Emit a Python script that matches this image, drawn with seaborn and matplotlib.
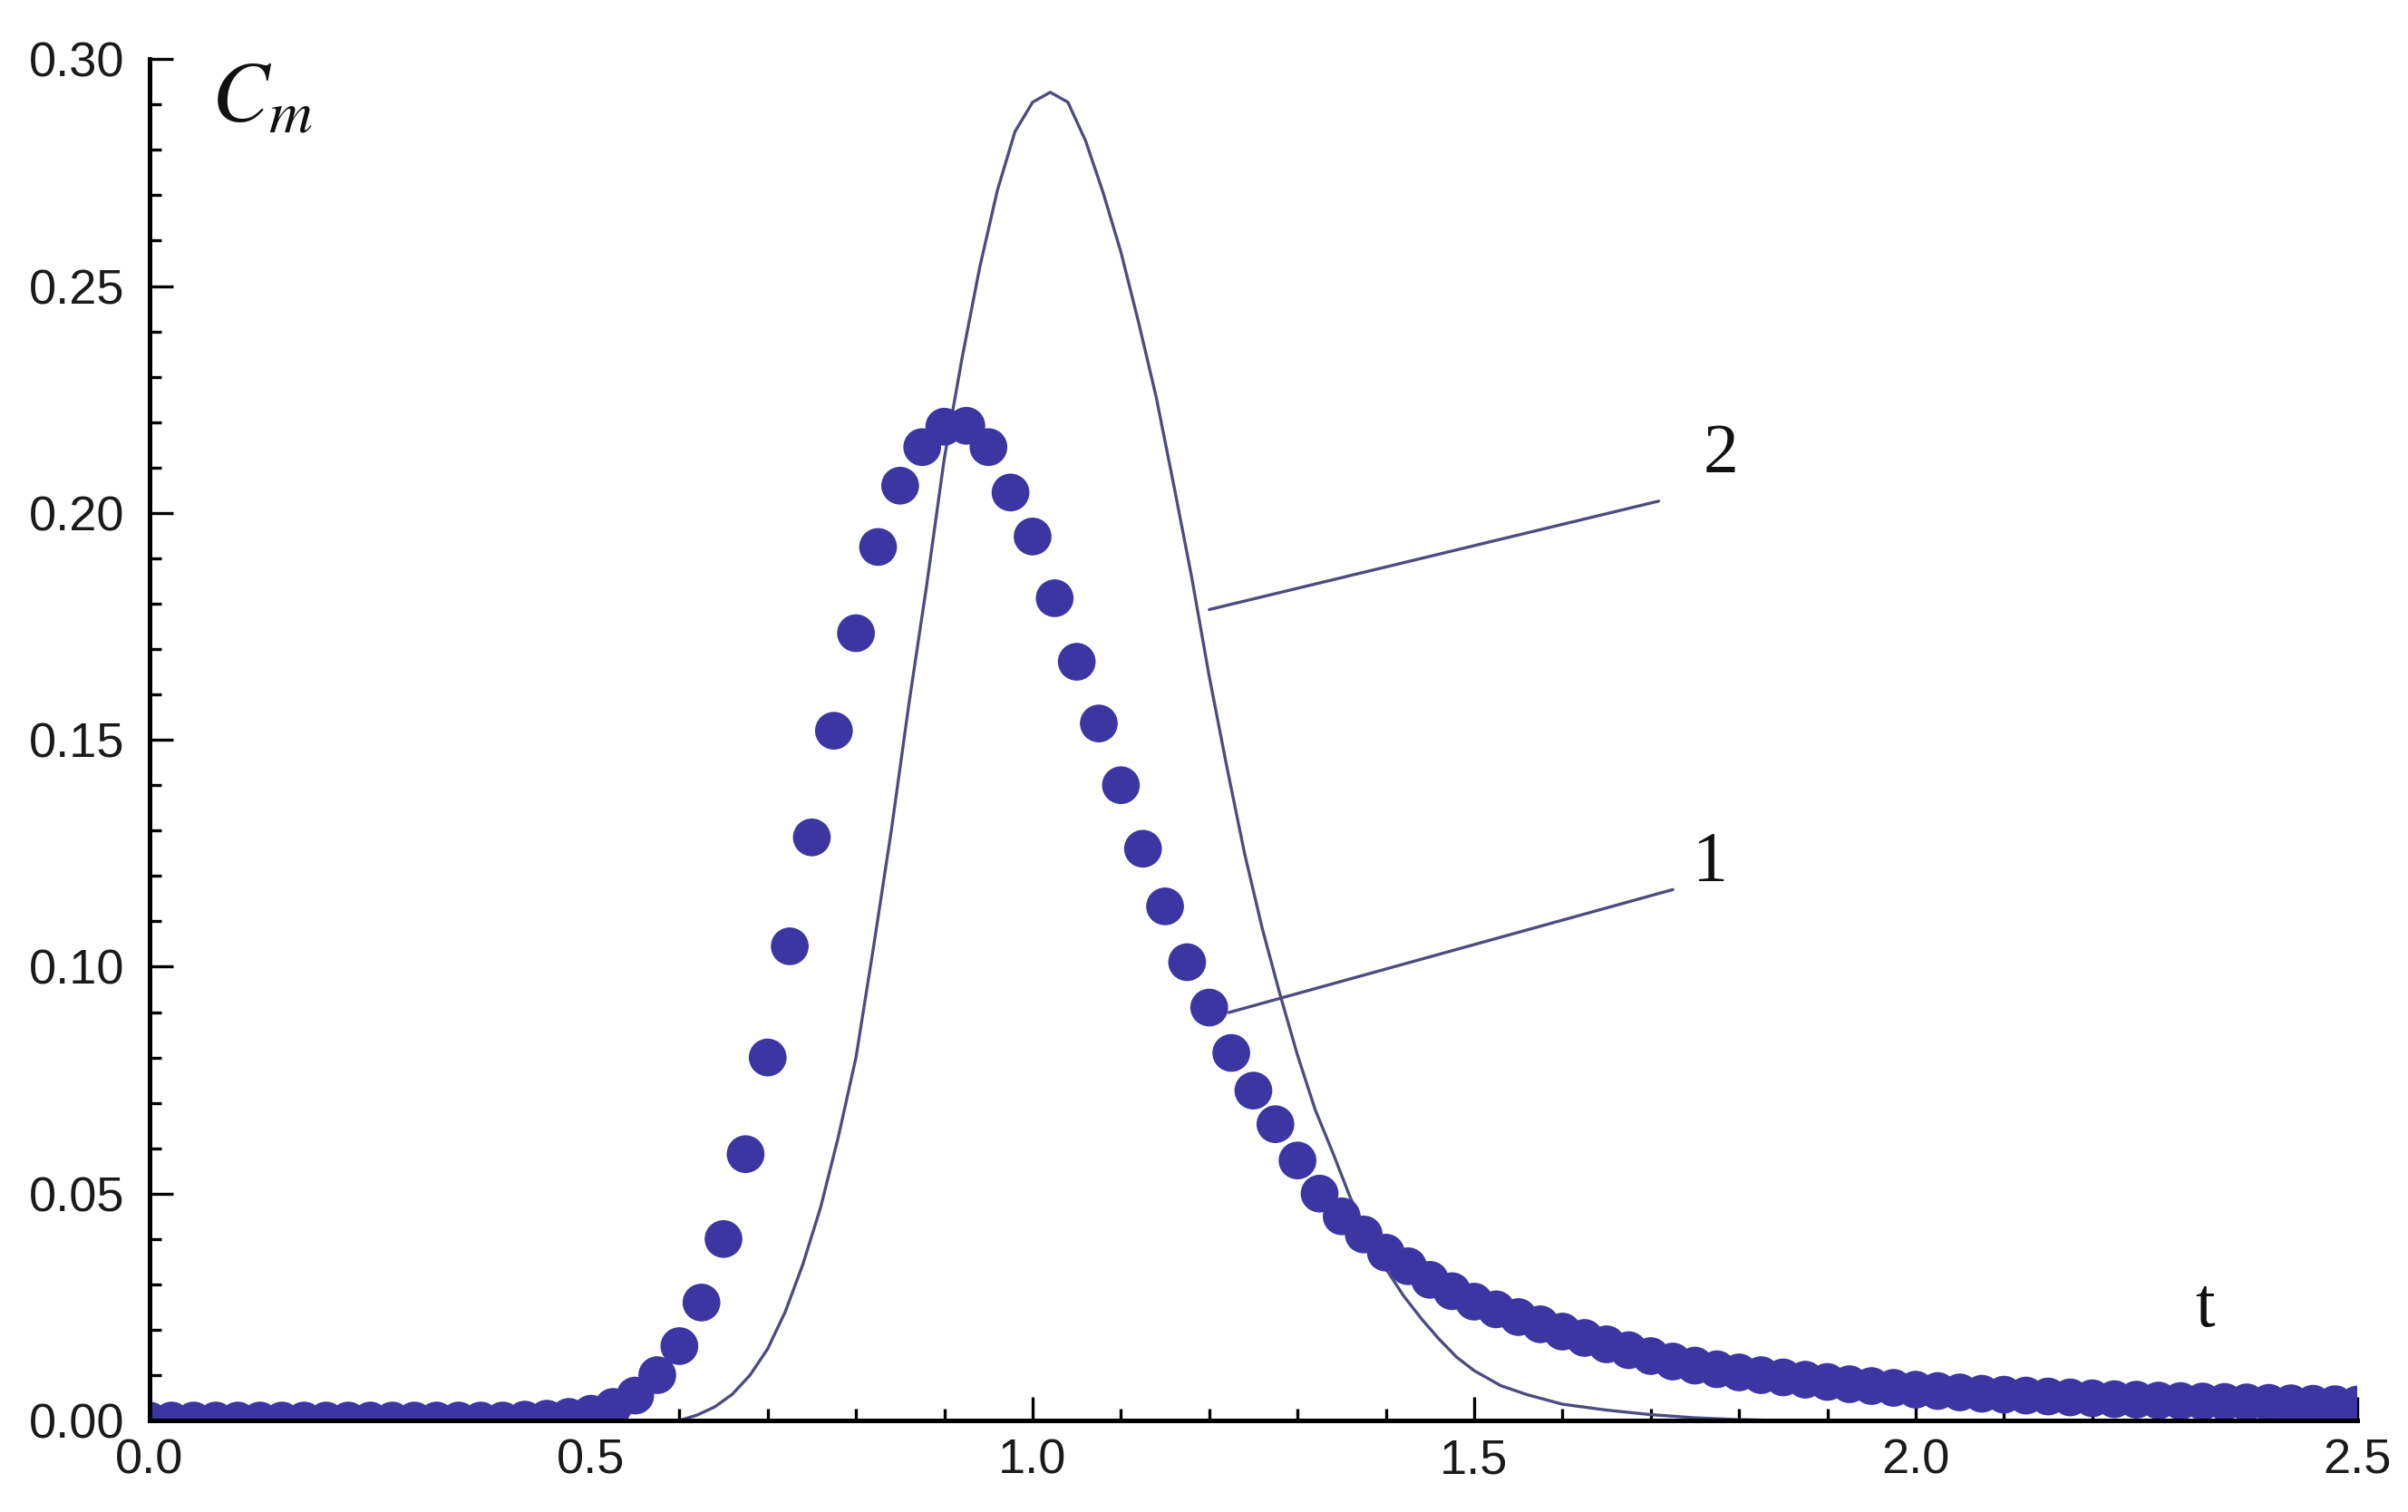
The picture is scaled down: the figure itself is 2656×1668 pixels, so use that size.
import numpy as np
import matplotlib
matplotlib.use("Agg")
import matplotlib.pyplot as plt
from matplotlib.ticker import MultipleLocator, FormatStrFormatter
import seaborn as sns

# curve 1: measured points (dots), sampled every 0.025 from t=0 to t=2.5
t_dots = np.linspace(0.0, 2.5, 101)
c_dots = [
    0.0, 0.0, 0.0, 0.0, 0.0, 0.0, 0.0, 0.0, 0.0, 0.0,
    0.0, 0.0, 0.0, 0.0, 0.0, 0.0, 0.0, 0.0002, 0.0004, 0.0008,
    0.0015, 0.0030, 0.0055, 0.0100, 0.0164, 0.0260, 0.0400, 0.0587, 0.0800, 0.1045,
    0.1285, 0.1520, 0.1735, 0.1925, 0.2060, 0.2145, 0.2190, 0.2192, 0.2145, 0.2045,
    0.1948, 0.1812, 0.1672, 0.1536, 0.1400, 0.1260, 0.1133, 0.1010, 0.0910, 0.0810,
    0.0727, 0.0653, 0.0573, 0.0500, 0.0450, 0.0410, 0.0370, 0.0340, 0.0310, 0.0285,
    0.0262, 0.0245, 0.0228, 0.0212, 0.0196, 0.0182, 0.0168, 0.0155, 0.0142, 0.0130,
    0.0121, 0.0113, 0.0106, 0.0100, 0.0095, 0.0090, 0.0085, 0.0080, 0.0076, 0.0072,
    0.0068, 0.0065, 0.0062, 0.0059, 0.0057, 0.0055, 0.0053, 0.0051, 0.0049, 0.0047,
    0.0046, 0.0044, 0.0043, 0.0042, 0.0041, 0.0040, 0.0039, 0.0038, 0.0037, 0.0036,
    0.0035,
]

# curve 2: model (thin line)
t_curve = [0.0, 0.60, 0.62, 0.64, 0.66, 0.68, 0.70, 0.72, 0.74, 0.76, 0.78,
           0.80, 0.82, 0.84, 0.86, 0.88, 0.90, 0.92, 0.94, 0.96, 0.98,
           1.00, 1.02, 1.04, 1.06, 1.08, 1.10, 1.12, 1.14, 1.16, 1.18,
           1.20, 1.22, 1.24, 1.26, 1.28, 1.30, 1.32, 1.34, 1.36, 1.38,
           1.40, 1.42, 1.44, 1.46, 1.48, 1.50, 1.53, 1.56, 1.60, 1.65,
           1.70, 1.75, 1.80, 1.85, 2.50]
c_curve = [0.0, 0.0, 0.0012, 0.0030, 0.0058, 0.0100, 0.0158, 0.0240, 0.0345, 0.0470, 0.0625,
           0.0800, 0.1045, 0.1300, 0.1580, 0.1840, 0.2120, 0.2340, 0.2540, 0.2710, 0.2840,
           0.2905, 0.2927, 0.2905, 0.2820, 0.2705, 0.2575, 0.2420, 0.2255, 0.2060, 0.1860,
           0.1640, 0.1440, 0.1250, 0.1085, 0.0940, 0.0805, 0.0685, 0.0590, 0.0490, 0.0410,
           0.0335, 0.0275, 0.0225, 0.0180, 0.0140, 0.0110, 0.0077, 0.0057, 0.0036, 0.0023,
           0.0013, 0.0006, 0.0002, 0.0, 0.0]

x_ticks = [0.0, 0.5, 1.0, 1.5, 2.0, 2.5]
y_ticks = [0.00, 0.05, 0.10, 0.15, 0.20, 0.25, 0.30]

DOT_COLOR = "#3b36a2"
LINE_COLOR = "#4c4c7e"

sns.set_theme(style="white")
plt.rcParams["font.family"] = ["Liberation Sans", "DejaVu Sans"]
plt.rcParams["mathtext.fontset"] = "stix"

fig = plt.figure(figsize=(26.56, 16.68), dpi=100)
ax = fig.add_axes([0.0621, 0.0605, 0.9168, 0.9004])

sns.lineplot(x=t_curve, y=c_curve, ax=ax, color=LINE_COLOR, linewidth=2.4,
             sort=False, zorder=2)
sns.scatterplot(x=t_dots, y=c_dots, ax=ax, color=DOT_COLOR, s=900,
                edgecolor="none", linewidth=0, zorder=3)

# leader lines and curve numbers
ax.plot([1.200, 1.709], [0.1787, 0.2026], color=LINE_COLOR, lw=2.4, zorder=2)
ax.plot([1.222, 1.725], [0.0899, 0.1170], color=LINE_COLOR, lw=2.4, zorder=2)
ax.text(1.779, 0.2127, "2", fontsize=56, family="Liberation Serif",
        ha="center", va="center", color="#111111")
ax.text(1.767, 0.1229, "1", fontsize=56, family="Liberation Serif",
        ha="center", va="center", color="#111111")

# axis labels placed inside the plot, Mathematica style
ax.text(2.328, 0.0208, "t", fontsize=56, family="Liberation Serif",
        ha="center", va="baseline", color="#111111")
ax.text(0.070, 0.3000, r"$C_m$", fontsize=68, ha="left", va="top", color="#111111")

ax.set_xlim(0, 2.5)
ax.set_ylim(0, 0.30)
ax.set_xticks(x_ticks)
ax.set_yticks(y_ticks)
ax.xaxis.set_major_formatter(FormatStrFormatter("%.1f"))
ax.yaxis.set_major_formatter(FormatStrFormatter("%.2f"))
ax.xaxis.set_minor_locator(MultipleLocator(0.1))
ax.yaxis.set_minor_locator(MultipleLocator(0.01))

for side in ["top", "right"]:
    ax.spines[side].set_visible(False)
for side in ["left", "bottom"]:
    ax.spines[side].set_color("black")
    ax.spines[side].set_linewidth(3.6)
    ax.spines[side].set_zorder(5)

ax.tick_params(which="major", direction="in", length=19, width=2.4,
               color="black", labelsize=39, labelcolor="#1a1a1a")
ax.tick_params(axis="x", which="major", pad=14)
ax.tick_params(axis="y", which="major", pad=20)
ax.tick_params(which="minor", direction="in", length=9.5, width=2.4, color="black")
ax.tick_params(bottom=True, left=True, which="both")
ax.grid(False)
ax.set_facecolor("white")

fig.savefig("out.png", dpi=100, facecolor="white")
